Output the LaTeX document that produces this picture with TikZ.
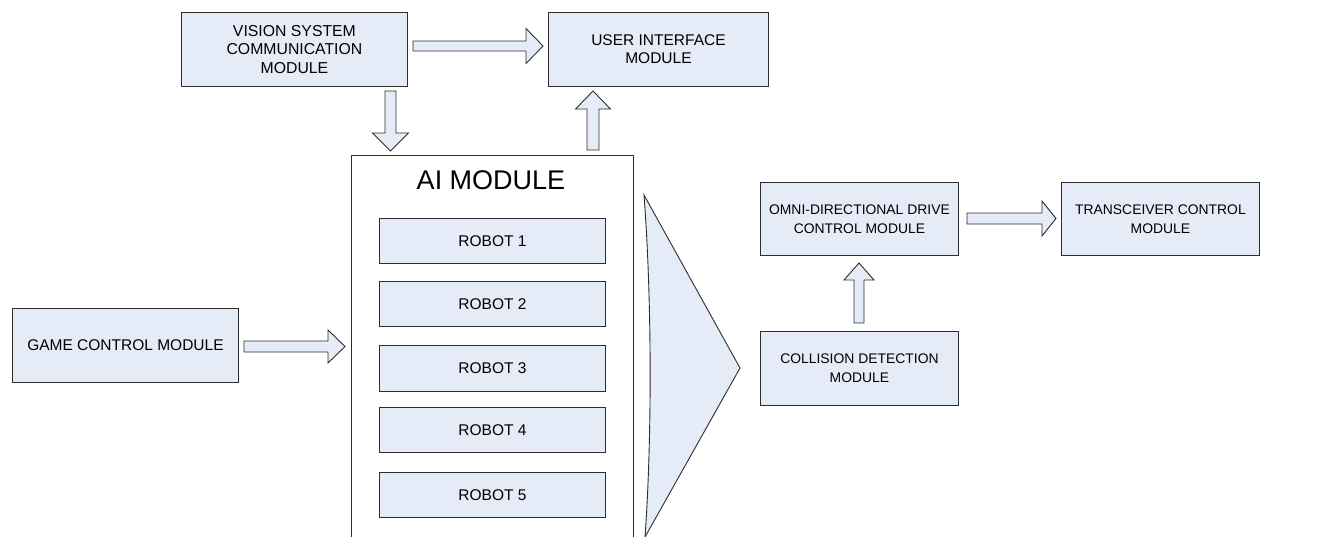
\documentclass[tikz,border=0pt]{standalone}
\usepackage{fontspec}
\setmainfont{Liberation Sans}
\usetikzlibrary{calc}
\definecolor{boxfill}{RGB}{230,236,247}
\definecolor{edgecol}{RGB}{45,45,45}
% block arrows: #1 start, #2 tip, #3 shaft half width, #4 head half width, #5 head length
\newcommand\rblock[5]{\draw[barrow] ($(#1)+(0,-#3)$) -- ($(#2)+(-#5,-#3)$) -- ($(#2)+(-#5,-#4)$) -- (#2) -- ($(#2)+(-#5,#4)$) -- ($(#2)+(-#5,#3)$) -- ($(#1)+(0,#3)$) -- cycle;}
\newcommand\ublock[5]{\draw[barrow] ($(#1)+(-#3,0)$) -- ($(#2)+(-#3,#5)$) -- ($(#2)+(-#4,#5)$) -- (#2) -- ($(#2)+(#4,#5)$) -- ($(#2)+(#3,#5)$) -- ($(#1)+(#3,0)$) -- cycle;}
\newcommand\dblock[5]{\draw[barrow] ($(#1)+(-#3,0)$) -- ($(#2)+(-#3,-#5)$) -- ($(#2)+(-#4,-#5)$) -- (#2) -- ($(#2)+(#4,-#5)$) -- ($(#2)+(#3,-#5)$) -- ($(#1)+(#3,0)$) -- cycle;}
\begin{document}
\begin{tikzpicture}[x=1pt,y=-1pt,
  box/.style={draw=edgecol, fill=boxfill, line width=0.9pt, align=center, inner sep=0pt,
    anchor=north west, font=\fontsize{15.5}{18}\selectfont},
  smallbox/.style={box, font=\fontsize{13.9}{19}\selectfont},
  robotbox/.style={box, minimum width=226pt, minimum height=45pt},
  barrow/.style={draw=edgecol, fill=boxfill, line width=0.9pt, line join=miter}]
\useasboundingbox (0,0) rectangle (1338,536);
\clip (0,0) rectangle (1338,536);

% modules
\node[box, font=\fontsize{15.8}{18.5}\selectfont, minimum width=226pt, minimum height=74pt] (vision) at (181,12) {VISION SYSTEM\\COMMUNICATION\\MODULE};
\node[box, minimum width=220pt, minimum height=74pt] (ui) at (548,12) {USER INTERFACE\\MODULE};
\node[box, minimum width=226pt, minimum height=74pt] (game) at (12,308) {GAME CONTROL MODULE};
\node[smallbox, minimum width=198pt, minimum height=73pt] (omni) at (760,182) {OMNI-DIRECTIONAL DRIVE\\CONTROL MODULE};
\node[smallbox, minimum width=198pt, minimum height=73pt] (trans) at (1061,182) {TRANSCEIVER CONTROL\\MODULE};
\node[smallbox, minimum width=198pt, minimum height=74pt] (coll) at (760,331) {COLLISION DETECTION\\MODULE};

% AI module container
\node[box, fill=white, minimum width=282pt, minimum height=395pt] (ai) at (351,155) {};
\node[font=\fontsize{27}{30}\selectfont, inner sep=0pt] (aititle) at (491,180) {AI MODULE};
\node[robotbox] (r1) at (379,218) {ROBOT 1};
\node[robotbox] (r2) at (379,281) {ROBOT 2};
\node[robotbox, minimum height=46pt] (r3) at (379,345) {ROBOT 3};
\node[robotbox] (r4) at (379,407) {ROBOT 4};
\node[robotbox] (r5) at (379,472) {ROBOT 5};

% big output arrow (triangle)
\coordinate (tt) at (644,195);
\coordinate (tr) at (740,368);
\coordinate (tb) at (645,537);
\draw[barrow] (tt) -- (tr) -- (tb) .. controls (652,440) and (652,300) .. (tt) -- cycle;

% block arrows
\coordinate (a1s) at (413,46);    \coordinate (a1e) at (543,46);
\coordinate (a2s) at (390.5,91);  \coordinate (a2e) at (390.5,151);
\coordinate (a3s) at (593,150);   \coordinate (a3e) at (593,91);
\coordinate (a4s) at (244,346.5); \coordinate (a4e) at (345,346.5);
\coordinate (a5s) at (967,218.5); \coordinate (a5e) at (1056,218.5);
\coordinate (a6s) at (859,323);   \coordinate (a6e) at (859,263);
\rblock{a1s}{a1e}{5}{17.5}{17}
\dblock{a2s}{a2e}{5.5}{18}{18}
\ublock{a3s}{a3e}{6}{17.5}{18}
\rblock{a4s}{a4e}{5.5}{16.5}{17}
\rblock{a5s}{a5e}{5.5}{17.5}{14}
\ublock{a6s}{a6e}{5}{15}{17}
\end{tikzpicture}
\end{document}
